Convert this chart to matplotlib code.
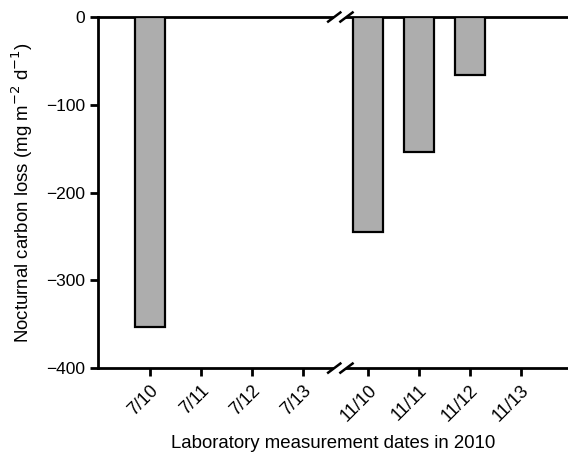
import numpy as np
import matplotlib.pyplot as plt

plt.rcParams['font.family'] = ['Liberation Sans', 'DejaVu Sans']

# dates and nocturnal carbon loss (mg m-2 d-1), gaps = no measurement
dates = ["7/10", "7/11", "7/12", "7/13", "11/10", "11/11", "11/12", "11/13"]
loss = [-353, np.nan, np.nan, np.nan, -245, -154, -66, np.nan]
yticks = [0, -100, -200, -300, -400]

# positions: second group shifted to leave room for axis break
gap = 0.28
xpos = np.array([0, 1, 2, 3, 4 + gap, 5 + gap, 6 + gap, 7 + gap])
brk = (xpos[3] + xpos[4]) / 2 + 0.1

fig = plt.figure(figsize=(5.68, 4.55), dpi=100)
ax = fig.add_axes([0.1725, 0.191, 0.8275, 0.7716])

vals = np.nan_to_num(loss, nan=0.0)
mask = ~np.isnan(loss)
ax.bar(xpos[mask], vals[mask], width=0.59, color="#adadad",
       edgecolor="black", linewidth=1.6, zorder=3)

ax.set_xlim(-1.02, 8.21)
ax.set_ylim(-400, 0)
ax.set_yticks(yticks)
ax.set_yticklabels([str(v).replace("-", "\u2212") for v in yticks], fontsize=12.5)
ax.set_xticks(xpos)
ax.set_xticklabels(dates, rotation=45, ha="right", rotation_mode="anchor",
                   fontsize=13)

for s in ["top", "bottom", "left"]:
    ax.spines[s].set_linewidth(2)
ax.spines["right"].set_visible(False)
ax.tick_params(axis="both", width=2, length=6, direction="out")
ax.tick_params(axis="x", pad=4)

ax.set_ylabel("Nocturnal carbon loss (mg m$^{-2}$ d$^{-1}$)", fontsize=13.4,
              labelpad=8)
ax.set_xlabel("Laboratory measurement dates in 2010", fontsize=13.4, labelpad=7)

# axis break marks on top and bottom spines
for yb in (0, 1):
    tr = ax.get_xaxis_transform()
    ax.plot([brk - 0.12, brk + 0.12], [yb, yb], color="white", lw=4,
            transform=tr, clip_on=False, zorder=5, solid_capstyle="butt")
    for dx in (-0.12, 0.12):
        ax.plot([brk + dx - 0.12, brk + dx + 0.12], [yb - 0.013, yb + 0.013],
                color="black", lw=1.8, transform=tr, clip_on=False, zorder=6)

fig.savefig("out.png", dpi=100)
